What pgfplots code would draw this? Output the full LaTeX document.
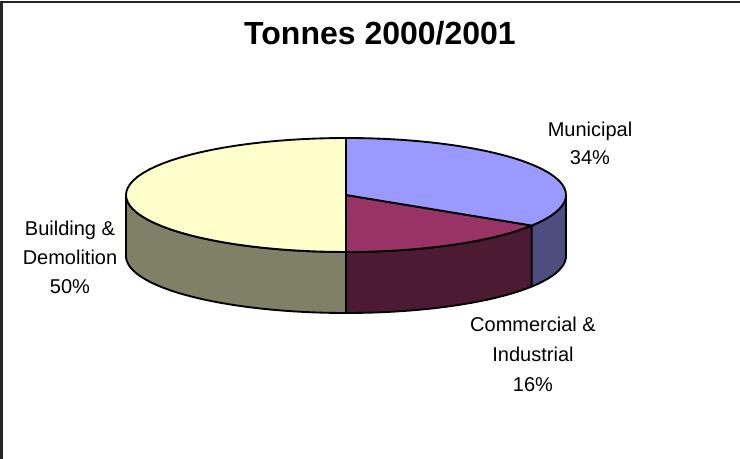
\documentclass[border=0pt]{standalone}
\usepackage{pgfplots}
\usepackage{pgfplotstable}
\usepackage{fontspec}
\setmainfont{Liberation Sans}
\pgfplotsset{compat=1.18}

\definecolor{munTop}{HTML}{9999FF}
\definecolor{munSide}{HTML}{4D4D80}
\definecolor{comTop}{HTML}{993366}
\definecolor{comSide}{HTML}{4D1A33}
\definecolor{bldTop}{HTML}{FFFFCC}
\definecolor{bldSide}{HTML}{808066}

\tikzset{lbl/.style={anchor=base, inner sep=0pt, font=\fontsize{15}{18}\selectfont}}

\pgfplotstableread{
label value
Municipal 34
Commercial 16
Building 50
}\piedata

% pie geometry in pixel units of the axis
\def\cx{346}
\def\cy{195}
\def\rx{220}
\def\ry{57}
\def\depth{61}

\newcommand\arcpts[3]{%
  \foreach \k in {0,...,48}{%
    \pgfmathsetmacro\tang{#1+(#2-#1)*\k/48}%
    \pgfmathsetmacro\px{\cx+\rx*cos(\tang)}%
    \pgfmathsetmacro\py{\cy-\ry*sin(\tang)+#3}%
    \xdef\pts{\pts(\px,\py)}%
  }}
% top face of a slice
\newcommand\mktop[3]{%
  \xdef\pts{(\cx,\cy)}%
  \arcpts{#2}{#3}{0}%
  \global\let#1\pts}
% visible side of a slice
\newcommand\mkside[3]{%
  \gdef\pts{}%
  \arcpts{#2}{#3}{0}%
  \arcpts{#3}{#2}{\depth}%
  \global\let#1\pts}

\begin{document}
\pgfplotstablegetelem{0}{value}\of\piedata \pgfmathsetmacro\vm{\pgfplotsretval}%
\pgfplotstablegetelem{1}{value}\of\piedata \pgfmathsetmacro\vc{\pgfplotsretval}%
\pgfplotstablegetelem{2}{value}\of\piedata \pgfmathsetmacro\vb{\pgfplotsretval}%
\pgfmathsetmacro\aA{90}%
\pgfmathsetmacro\aB{\aA-3.6*\vm}%
\pgfmathsetmacro\aC{\aB-3.6*\vc}%
\pgfmathsetmacro\aD{\aC-3.6*\vb}%
\mktop{\topM}{\aA}{\aB}%
\mktop{\topC}{\aB}{\aC}%
\mktop{\topB}{\aC}{\aD}%
\mkside{\sideM}{0}{\aB}%
\mkside{\sideC}{\aB}{\aC}%
\mkside{\sideB}{\aC}{-180}%
\begin{tikzpicture}
\begin{axis}[at={(0,0)}, anchor=south west, scale only axis,
  width=555pt, height=344.25pt,
  xmin=0, xmax=740, ymin=0, ymax=459, y dir=reverse,
  hide axis, clip=false]
\edef\drawpie{%
\noexpand\addplot[fill=bldSide, draw=black, line width=1.4pt, line join=round] coordinates {\sideB} -- cycle;
\noexpand\addplot[fill=comSide, draw=black, line width=1.4pt, line join=round] coordinates {\sideC} -- cycle;
\noexpand\addplot[fill=munSide, draw=black, line width=1.4pt, line join=round] coordinates {\sideM} -- cycle;
\noexpand\addplot[fill=bldTop, draw=black, line width=1.4pt, line join=round] coordinates {\topB} -- cycle;
\noexpand\addplot[fill=comTop, draw=black, line width=1.4pt, line join=round] coordinates {\topC} -- cycle;
\noexpand\addplot[fill=munTop, draw=black, line width=1.4pt, line join=round] coordinates {\topM} -- cycle;
}
\drawpie
\draw[line width=1.5pt, black!85] (axis cs:1.5,459) -- (axis cs:1.5,2) -- (axis cs:740,2);
\node[anchor=base, inner sep=0pt, font=\bfseries\fontsize{24}{28}\selectfont] at (axis cs:380,45) {Tonnes 2000/2001};
\node[lbl] at (axis cs:590,136.7) {Municipal};
\node[lbl] at (axis cs:590,165) {34\%};
\node[lbl] at (axis cs:533,331.7) {Commercial \&};
\node[lbl] at (axis cs:533,361.7) {Industrial};
\node[lbl] at (axis cs:533,391.7) {16\%};
\node[lbl] at (axis cs:70,236) {Building \&};
\node[lbl] at (axis cs:70,265) {Demolition};
\node[lbl] at (axis cs:70,294) {50\%};
\end{axis}
\pgfresetboundingbox
\path (0,0) rectangle (555pt,344.25pt);
\end{tikzpicture}
\end{document}
